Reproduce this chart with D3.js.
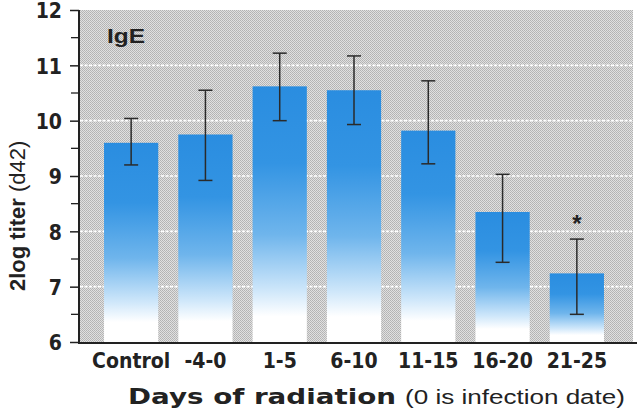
<!DOCTYPE html>
<html><head><meta charset="utf-8">
<script src="https://cdn.jsdelivr.net/npm/d3@7"></script>
<style>
html,body{margin:0;padding:0;background:#fff;}
svg{display:block;}
</style></head>
<body>
<svg id="chart" width="637" height="412"></svg>
<script>
const categories = ["Control","-4-0","1-5","6-10","11-15","16-20","21-25"];
const means = [9.6, 9.75, 10.62, 10.55, 9.82, 8.35, 7.24];
const errLow = [9.2, 8.92, 10.0, 9.93, 9.22, 7.44, 6.5];
const errHigh = [10.04, 10.55, 11.22, 11.17, 10.72, 9.03, 7.86];
const significant = [false,false,false,false,false,false,true];
const yTicks = [6,7,8,9,10,11,12];
const yMinorTicks = [6.5,7.5,8.5,9.5,10.5,11.5];
const gridValues = [7,8,9,10,11];

const svg = d3.select("#chart");
const defs = svg.append("defs");

const pat = defs.append("pattern").attr("id","stipple").attr("width",2).attr("height",2)
  .attr("patternUnits","userSpaceOnUse");
pat.append("rect").attr("width",2).attr("height",2).attr("fill","#e0e0e0");
pat.append("rect").attr("width",1).attr("height",1).attr("fill","#b2b2b2");
pat.append("rect").attr("x",1).attr("y",1).attr("width",1).attr("height",1).attr("fill","#b8b8b8");

const grad = defs.append("linearGradient").attr("id","barGrad")
  .attr("x1",0).attr("y1",0).attr("x2",0).attr("y2",1);
[[0,"#2a8de0"],[0.3,"#3394e3"],[0.58,"#6fb5ec"],[0.8,"#cfe7fa"],[0.9,"#ffffff"],[1,"#ffffff"]]
  .forEach(([o,c])=>grad.append("stop").attr("offset",o).attr("stop-color",c));

const y = d3.scaleLinear().domain([6,12]).range([342,10]);
const x = d3.scaleBand().domain(categories).range([94,614]).paddingInner(0.27).paddingOuter(0.135);

const axisX = 79, plotRight = 633;

svg.append("rect").attr("x",axisX).attr("y",y(12)).attr("width",plotRight-axisX)
  .attr("height",y(6)-y(12)).attr("fill","url(#stipple)");

svg.append("g").selectAll("line").data(gridValues).join("line")
  .attr("x1",axisX+1).attr("x2",plotRight).attr("y1",d=>y(d)).attr("y2",d=>y(d))
  .attr("stroke","#fff").attr("stroke-width",1.6).attr("stroke-dasharray","3,1.5");

svg.append("g").selectAll("rect").data(categories).join("rect")
  .attr("x",d=>x(d)).attr("width",x.bandwidth())
  .attr("y",(d,i)=>y(means[i])).attr("height",(d,i)=>y(6)-y(means[i]))
  .attr("fill","url(#barGrad)");

const eg = svg.append("g").attr("stroke","#2a2a2a").attr("stroke-width",1.5);
categories.forEach((c,i)=>{
  const cx = x(c)+x.bandwidth()/2;
  eg.append("line").attr("x1",cx).attr("x2",cx).attr("y1",y(errLow[i])).attr("y2",y(errHigh[i]));
  eg.append("line").attr("x1",cx-7).attr("x2",cx+7).attr("y1",y(errLow[i])).attr("y2",y(errLow[i]));
  eg.append("line").attr("x1",cx-7).attr("x2",cx+7).attr("y1",y(errHigh[i])).attr("y2",y(errHigh[i]));
  if(significant[i]){
    svg.append("text").attr("x",cx).attr("y",y(errHigh[i])-7).attr("text-anchor","middle")
      .attr("font-family","Liberation Sans, Arial, sans-serif").attr("font-weight","bold")
      .attr("font-size",24).attr("fill","#222").text("*");
  }
});

const yAxis = svg.append("g").attr("transform",`translate(${axisX},0)`)
  .call(d3.axisLeft(y).tickValues(yTicks).tickSize(9).tickPadding(8).tickFormat(d3.format("d")));
yAxis.select(".domain").attr("stroke","#222").attr("stroke-width",2).attr("d",`M0,${y(12)}V${y(6)+1}`);
yAxis.selectAll(".tick line").attr("stroke","#222").attr("stroke-width",1.5);
yAxis.selectAll(".tick text").attr("font-family","Liberation Sans Narrow, DejaVu Sans Condensed, sans-serif")
  .attr("font-weight","bold").attr("font-size",21).attr("fill","#222").attr("dy","0.38em");
svg.append("g").attr("transform",`translate(${axisX},0)`).selectAll("line").data(yMinorTicks).join("line")
  .attr("x1",-8).attr("x2",0).attr("y1",d=>y(d)).attr("y2",d=>y(d)).attr("stroke","#222").attr("stroke-width",1.3);

svg.append("line").attr("x1",axisX-1).attr("x2",637).attr("y1",y(6)+1).attr("y2",y(6)+1)
  .attr("stroke","#222").attr("stroke-width",2.2);

const xAxis = svg.append("g").attr("transform",`translate(0,${y(6)+2})`)
  .call(d3.axisBottom(x).tickSize(0).tickPadding(9));
xAxis.select(".domain").remove();
xAxis.selectAll(".tick text").attr("font-family","Liberation Sans Narrow, DejaVu Sans Condensed, sans-serif")
  .attr("font-weight","bold").attr("font-size",21).attr("fill","#222");

svg.append("text").attr("x",128).attr("y",404).attr("font-family","DejaVu Sans, sans-serif")
  .attr("font-weight","bold").attr("font-size",22).attr("fill","#222")
  .attr("textLength",268).attr("lengthAdjust","spacingAndGlyphs").text("Days of radiation");
svg.append("text").attr("x",405).attr("y",404).attr("font-family","Liberation Sans, Arial, sans-serif")
  .attr("font-size",20).attr("fill","#222")
  .attr("textLength",220).attr("lengthAdjust","spacingAndGlyphs").text("(0 is infection date)");

const yt = svg.append("text").attr("transform","translate(25,291) rotate(-90)")
  .attr("font-family","Liberation Sans, Arial, sans-serif").attr("font-size",22).attr("fill","#222");
yt.append("tspan").attr("font-weight","bold").text("2log titer ");
yt.append("tspan").text("(d42)");

svg.append("text").attr("x",107).attr("y",43).attr("font-family","Liberation Sans, Arial, sans-serif")
  .attr("font-weight","bold").attr("font-size",21).attr("fill","#222")
  .attr("textLength",38).attr("lengthAdjust","spacingAndGlyphs").text("IgE");
</script>
</body></html>
